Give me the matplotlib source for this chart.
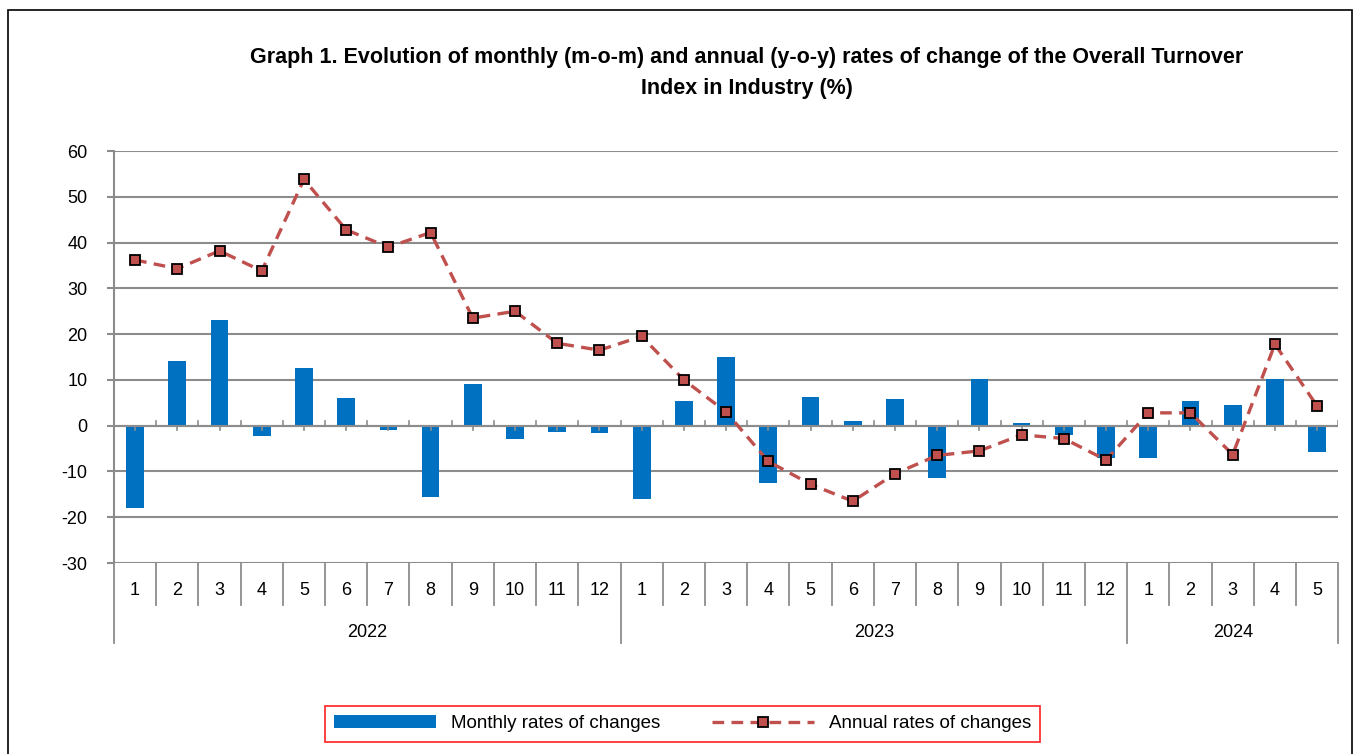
import matplotlib
matplotlib.use('Agg')
import matplotlib.pyplot as plt
import matplotlib.transforms as mtransforms
from matplotlib import font_manager

# police proche de Calibri si disponible
noms = [f.name for f in font_manager.fontManager.ttflist]
if 'Liberation Sans Narrow' in noms:
    plt.rcParams['font.family'] = ['Liberation Sans Narrow', 'DejaVu Sans']
else:
    plt.rcParams['font.family'] = ['Liberation Sans', 'DejaVu Sans']
plt.rcParams['axes.unicode_minus'] = False

# donnees
annees = ['2022', '2023', '2024']
mois_par_annee = [12, 12, 5]
mois = [str(m) for m in range(1, 13)] + [str(m) for m in range(1, 13)] + [str(m) for m in range(1, 6)]

mensuel = [-18.0, 14.2, 23.0, -2.2, 12.5, 6.0, -1.0, -15.5, 9.0, -2.8, -1.3, -1.5,
           -16.0, 5.5, 15.0, -12.5, 6.3, 1.0, 5.8, -11.5, 10.3, 0.5, -2.0, -7.0,
           -7.0, 5.5, 4.5, 10.2, -5.8]
annuel = [36.2, 34.3, 38.2, 33.8, 53.8, 42.8, 39.0, 42.2, 23.5, 25.0, 18.0, 16.5,
          19.5, 10.0, 3.0, -7.8, -12.8, -16.5, -10.5, -6.5, -5.5, -2.0, -2.8, -7.5,
          2.8, 2.8, -6.3, 17.8, 4.3]

x = list(range(len(mois)))
gris = '#8c8c8c'

fig = plt.figure(figsize=(13.6, 7.54), dpi=100)
ax = fig.add_axes([0.0838, 0.2533, 0.9002, 0.5464])

# cadre du graphique
fig.patches.append(plt.Rectangle((0.006, -0.01), 0.988, 0.997, transform=fig.transFigure,
                                 fill=False, edgecolor='black', linewidth=1.2))

ax.set_ylim(-30, 60)
ax.set_xlim(-0.5, len(mois) - 0.5)
ax.set_yticks(range(-30, 61, 10))
ax.grid(axis='y', color=gris, linewidth=1.5)
ax.set_axisbelow(True)
for s in ['top', 'right', 'bottom']:
    ax.spines[s].set_visible(False)
ax.spines['left'].set_color(gris)
ax.spines['left'].set_linewidth(1.5)
ax.tick_params(axis='y', colors=gris, length=5, width=1.5, labelsize=13, labelcolor='black', pad=14)
ax.tick_params(axis='x', length=0, labelbottom=False)

barres = ax.bar(x, mensuel, width=0.42, color='#0070C0', label='Monthly rates of changes', zorder=2)
ax.axhline(0, color=gris, linewidth=1.5, zorder=2.5)
ligne, = ax.plot(x, annuel, color='#C0504D', linestyle=(0, (3.5, 2.2)), linewidth=2.4,
                 marker='s', markersize=6.5, markerfacecolor='#C0504D', markeredgecolor='black',
                 markeredgewidth=1.3, label='Annual rates of changes', zorder=3)

# petites graduations sur l'axe zero
for i in range(len(mois) + 1):
    ax.plot([i - 0.5, i - 0.5], [0, 1.0], color=gris, linewidth=1.2, zorder=2.6)
for i in x:
    ax.plot([i, i], [0, -1.0], color=gris, linewidth=1.2, zorder=2.6)

# axe des categories (mois / annees)
trans = mtransforms.blended_transform_factory(ax.transData, ax.transAxes)
debut = 0
bornes = [0]
for n in mois_par_annee:
    debut += n
    bornes.append(debut)
for i in range(len(mois) + 1):
    haut = -0.194 if (i in bornes) else -0.102
    ax.plot([i - 0.5, i - 0.5], [0, haut], color=gris, linewidth=1.3,
            transform=trans, clip_on=False)
for i, m in enumerate(mois):
    ax.text(i, -0.066, m, transform=trans, ha='center', va='center', fontsize=13)
for k, a in enumerate(annees):
    centre = (bornes[k] + bornes[k + 1] - 1) / 2
    ax.text(centre, -0.168, a, transform=trans, ha='center', va='center', fontsize=13)

fig.text(0.549, 0.924, 'Graph 1. Evolution of monthly (m-o-m) and annual (y-o-y) rates of change of the Overall Turnover',
         ha='center', va='center', fontsize=15.5, fontweight='bold')
fig.text(0.549, 0.883, 'Index in Industry (%)', ha='center', va='center', fontsize=15.5, fontweight='bold')

leg = fig.legend([barres, ligne], ['Monthly rates of changes', 'Annual rates of changes'],
                 loc='center', bbox_to_anchor=(0.502, 0.04), ncol=2,
                 fontsize=13.5, frameon=True, fancybox=False, handlelength=5.4,
                 columnspacing=2.8, borderpad=0.5)
leg.get_frame().set_edgecolor('red')
leg.get_frame().set_linewidth(1.3)

plt.savefig('out.png', dpi=100)
